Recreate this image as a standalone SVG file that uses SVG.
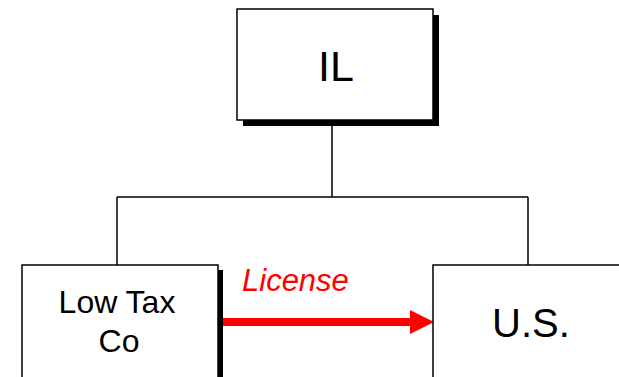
<svg xmlns="http://www.w3.org/2000/svg" width="619" height="377" viewBox="0 0 619 377">
<style>
.box{fill:#fff;stroke:#000;stroke-width:1.5}
.shadow{fill:#000}
.t{font-family:"Liberation Sans",Arial,sans-serif;fill:#000;text-anchor:middle}
.conn{fill:none;stroke:#000;stroke-width:1.5}
</style>
<rect width="619" height="377" fill="#fff"/>
<g id="connectors">
<path class="conn" d="M332,120 V197 M117,197 H528 M117,197 V265 M528,197 V265"/>
<line x1="223" y1="322" x2="412" y2="322" stroke="#f00" stroke-width="8"/>
<polygon points="410,310 434,322 410,334" fill="#f00"/>
<text x="242" y="291" font-family="'Liberation Sans',Arial,sans-serif" font-style="italic" font-size="31" fill="#f00">License</text>
</g>
<g id="node-il">
<rect class="shadow" x="243" y="15" width="196" height="111"/>
<rect class="box" x="237" y="9" width="196" height="111"/>
<text class="t" x="336" y="81" font-size="43">IL</text>
</g>
<g id="node-lowtax">
<rect class="shadow" x="27" y="270" width="196" height="130"/>
<rect class="box" x="22" y="265" width="196" height="130"/>
<text class="t" x="117" y="313" font-size="32">Low Tax</text>
<text class="t" x="119" y="352" font-size="32">Co</text>
</g>
<g id="node-us">
<rect class="shadow" x="439" y="271" width="196" height="130"/>
<rect class="box" x="433" y="265" width="196" height="130"/>
<text class="t" x="531" y="337" font-size="40">U.S.</text>
</g>
</svg>
